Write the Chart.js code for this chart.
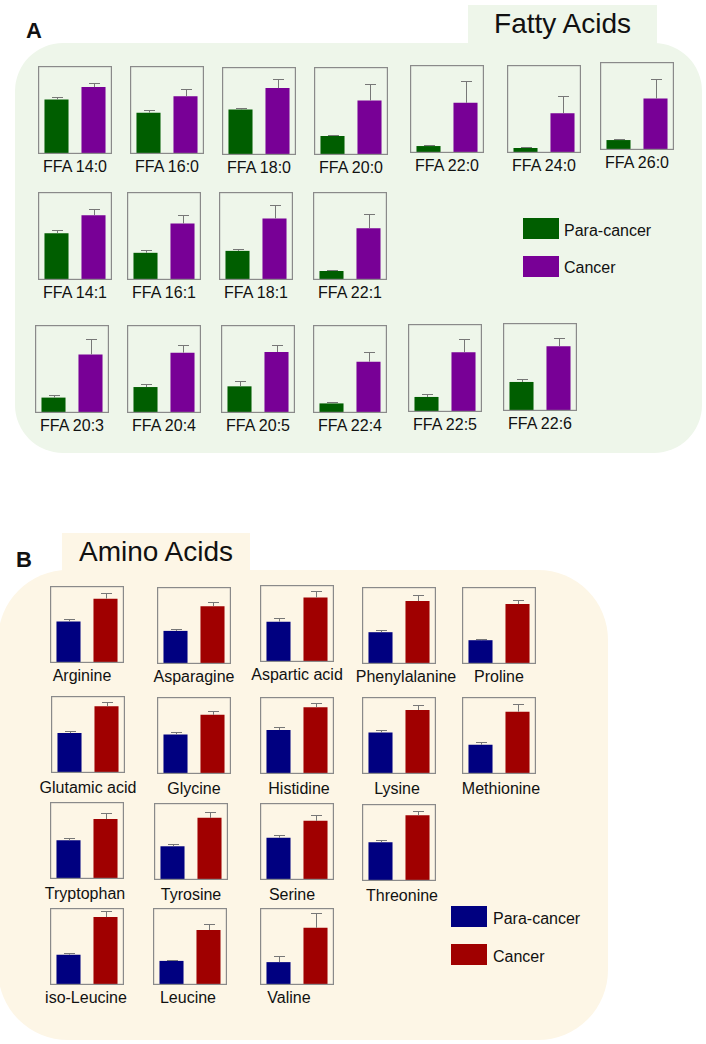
<!DOCTYPE html>
<html>
<head>
<meta charset="utf-8">
<script src="https://cdn.jsdelivr.net/npm/chart.js@4.4.1/dist/chart.umd.min.js"></script>
<style>
  body { margin: 0; background: #fff; font-family: "Liberation Sans", Arial, sans-serif; }
  #page { position: relative; width: 706px; height: 1044px; overflow: hidden; }
  .panel { position: absolute; }
  .mini { position: absolute; }
  .lbl { position: absolute; width: 140px; text-align: center; font-size: 16px; color: #111; line-height: 18px; white-space: nowrap; }
  .big { position: absolute; font-size: 28px; color: #111; text-align: center; line-height: 38px; }
  .letter { position: absolute; font-weight: bold; font-size: 22px; color: #111; }
  .key { position: absolute; width: 36px; height: 21px; }
  .keytxt { position: absolute; font-size: 16px; color: #111; line-height: 20px; }
</style>
</head>
<body>
<div id="page">
  <div class="panel" style="left:15px;top:43px;width:687px;height:410px;background:#eef6ea;border-radius:48px;"></div>
  <div class="big" style="left:468px;top:5px;width:189px;height:39px;background:#eef6ea;">Fatty Acids</div>
  <div class="letter" style="left:26px;top:18px;">A</div>

  <div class="panel" style="left:-2px;top:570px;width:610px;height:470px;background:#fdf6e6;border-radius:70px;"></div>
  <div class="big" style="left:62px;top:533px;width:188px;height:38px;background:#fdf6e6;">Amino Acids</div>
  <div class="letter" style="left:16px;top:547px;">B</div>

  <div class="key" style="left:523px;top:218px;background:#005e00;"></div>
  <div class="keytxt" style="left:564px;top:221px;">Para-cancer</div>
  <div class="key" style="left:523px;top:256px;background:#780096;"></div>
  <div class="keytxt" style="left:564px;top:258px;">Cancer</div>

  <div class="key" style="left:451px;top:906px;background:#000080;"></div>
  <div class="keytxt" style="left:493px;top:909px;">Para-cancer</div>
  <div class="key" style="left:451px;top:944px;background:#a00000;"></div>
  <div class="keytxt" style="left:493px;top:947px;">Cancer</div>
</div>
<script>
// groups, one bar each per small chart
var groups = ["Para-cancer", "Cancer"];

// Fatty acids, values relative to frame height (0-100)
var ffaNames = ["FFA 14:0", "FFA 16:0", "FFA 18:0", "FFA 20:0", "FFA 22:0", "FFA 24:0", "FFA 26:0",
  "FFA 14:1", "FFA 16:1", "FFA 18:1", "FFA 22:1",
  "FFA 20:3", "FFA 20:4", "FFA 20:5", "FFA 22:4", "FFA 22:5", "FFA 22:6"];
var ffaPara = [62, 47, 51.6, 21.6, 7.9, 5.7, 11.3, 53.2, 30.9, 33.1, 10.2, 17.5, 29.5, 30.3, 10.9, 17.1, 33];
var ffaParaErr = [2.4, 2.6, 2.3, 1.1, 0.8, 0.8, 1.5, 3.4, 2.7, 2.6, 0.8, 3.5, 3.5, 6.4, 1.6, 3.1, 3.5];
var ffaCancer = [76, 65.5, 76, 62, 57, 45.3, 58.4, 73.7, 64.2, 69.9, 58.9, 66.6, 68.6, 69.3, 58.3, 68, 73.7];
var ffaCancerErr = [4.5, 8, 10.4, 18.7, 25.3, 19.4, 22.6, 6.5, 9.4, 15.3, 16, 17.1, 9.2, 7.6, 11.4, 15.3, 9.5];

// Amino acids
var aaNames = ["Arginine", "Asparagine", "Aspartic acid", "Phenylalanine", "Proline",
  "Glutamic acid", "Glycine", "Histidine", "Lysine", "Methionine",
  "Tryptophan", "Tyrosine", "Serine", "Threonine",
  "iso-Leucine", "Leucine", "Valine"];
var aaPara = [53.8, 43, 52.4, 41.3, 30.9, 51.8, 51.3, 57.1, 54, 38, 50.3, 43.8, 54.8, 50.4, 39.3, 31.3, 29.7];
var aaParaErr = [3.9, 2.6, 4.3, 2.6, 1.7, 3, 3.5, 3.9, 3.5, 3, 3, 3.6, 4, 2.7, 2.6, 1.3, 7.9];
var aaCancer = [83.6, 75.1, 83.7, 81.7, 77.8, 86.6, 76.8, 86.8, 83.1, 80.9, 77.8, 80.7, 76.8, 85.3, 88.2, 71.4, 74.3];
var aaCancerErr = [6.9, 5.2, 9, 8.3, 5.2, 6, 5.2, 5.3, 6.5, 9.5, 7.4, 7, 7, 6.2, 7.4, 7.5, 19.2];

// where the small frames sit on the page: [left, top, labelGap, labelShift]
var ffaPos = [[38, 66, 13, 0], [130, 66, 13, 0], [222, 67, 13, 0], [314, 67, 13, 0], [410, 65, 13, 0], [507, 65, 13, 0], [600, 62, 13, 0],
  [38, 192, 13, 0], [127, 192, 13, 0], [219, 192, 13, 0], [313, 192, 13, 0],
  [35, 325, 13, 0], [127, 325, 13, 0], [221, 325, 13, 0], [313, 325, 13, 0], [408, 324, 13, 0], [503, 323, 13, 0]];
var aaPos = [[50, 586, 13, -5], [157, 587, 13, 0], [260, 585, 13, 0], [362, 587, 13, 7], [462, 587, 13, 0],
  [51, 696, 15, 0], [157, 697, 15, 0], [260, 697, 15, 2], [362, 697, 15, -2], [462, 697, 15, 2],
  [50, 802, 15, -2], [154, 803, 15, 0], [260, 803, 15, -5], [362, 804, 15, 3],
  [50, 908, 13, -1], [153, 908, 13, -2], [260, 908, 13, -8]];

var errorBars = {
  id: "errorBars",
  afterDatasetsDraw: function (chart) {
    var c = chart.ctx;
    var y = chart.scales.y;
    var errs = chart.options.plugins.errorBars.errs;
    var bars = chart.getDatasetMeta(0).data;
    c.save();
    c.strokeStyle = "#777";
    c.lineWidth = 1;
    bars.forEach(function (bar, i) {
      var v = chart.data.datasets[0].data[i];
      var top = Math.round(y.getPixelForValue(v + errs[i])) + 0.5;
      var x = Math.round(bar.x) + 0.5;
      c.beginPath();
      c.moveTo(x, bar.y);
      c.lineTo(x, top);
      c.moveTo(x - 5.5, top);
      c.lineTo(x + 5.5, top);
      c.stroke();
    });
    c.restore();
  },
  afterDraw: function (chart) {
    var c = chart.ctx;
    c.save();
    c.strokeStyle = "#8a8a8a";
    c.lineWidth = 1.2;
    c.strokeRect(0.6, 0.6, chart.width - 1.2, chart.height - 1.2);
    c.restore();
  }
};

var page = document.getElementById("page");

function mini(name, pos, w, h, para, paraErr, cancer, cancerErr, colors) {
  var cv = document.createElement("canvas");
  cv.className = "mini";
  cv.width = w;
  cv.height = h;
  cv.style.left = pos[0] + "px";
  cv.style.top = pos[1] + "px";
  cv.style.width = w + "px";
  cv.style.height = h + "px";
  page.appendChild(cv);

  var lbl = document.createElement("div");
  lbl.className = "lbl";
  lbl.textContent = name;
  lbl.style.left = (pos[0] + w / 2 - 70 + pos[3]) + "px";
  lbl.style.top = (pos[1] + h + pos[2] - 9) + "px";
  page.appendChild(lbl);

  new Chart(cv, {
    type: "bar",
    data: {
      labels: groups,
      datasets: [{
        data: [para, cancer],
        backgroundColor: colors,
        borderWidth: 0,
        barPercentage: 0.65,
        categoryPercentage: 1
      }]
    },
    options: {
      responsive: false,
      animation: false,
      events: [],
      layout: { padding: 0 },
      scales: {
        x: { display: false },
        y: { display: false, min: 0, max: 100 }
      },
      plugins: {
        legend: { display: false },
        tooltip: { enabled: false },
        errorBars: { errs: [paraErr, cancerErr] }
      }
    },
    plugins: [errorBars]
  });
}

ffaNames.forEach(function (n, i) {
  mini(n, ffaPos[i], 74, 88, ffaPara[i], ffaParaErr[i], ffaCancer[i], ffaCancerErr[i], ["#005e00", "#780096"]);
});
aaNames.forEach(function (n, i) {
  mini(n, aaPos[i], 74, 77, aaPara[i], aaParaErr[i], aaCancer[i], aaCancerErr[i], ["#000080", "#a00000"]);
});
</script>
</body>
</html>
